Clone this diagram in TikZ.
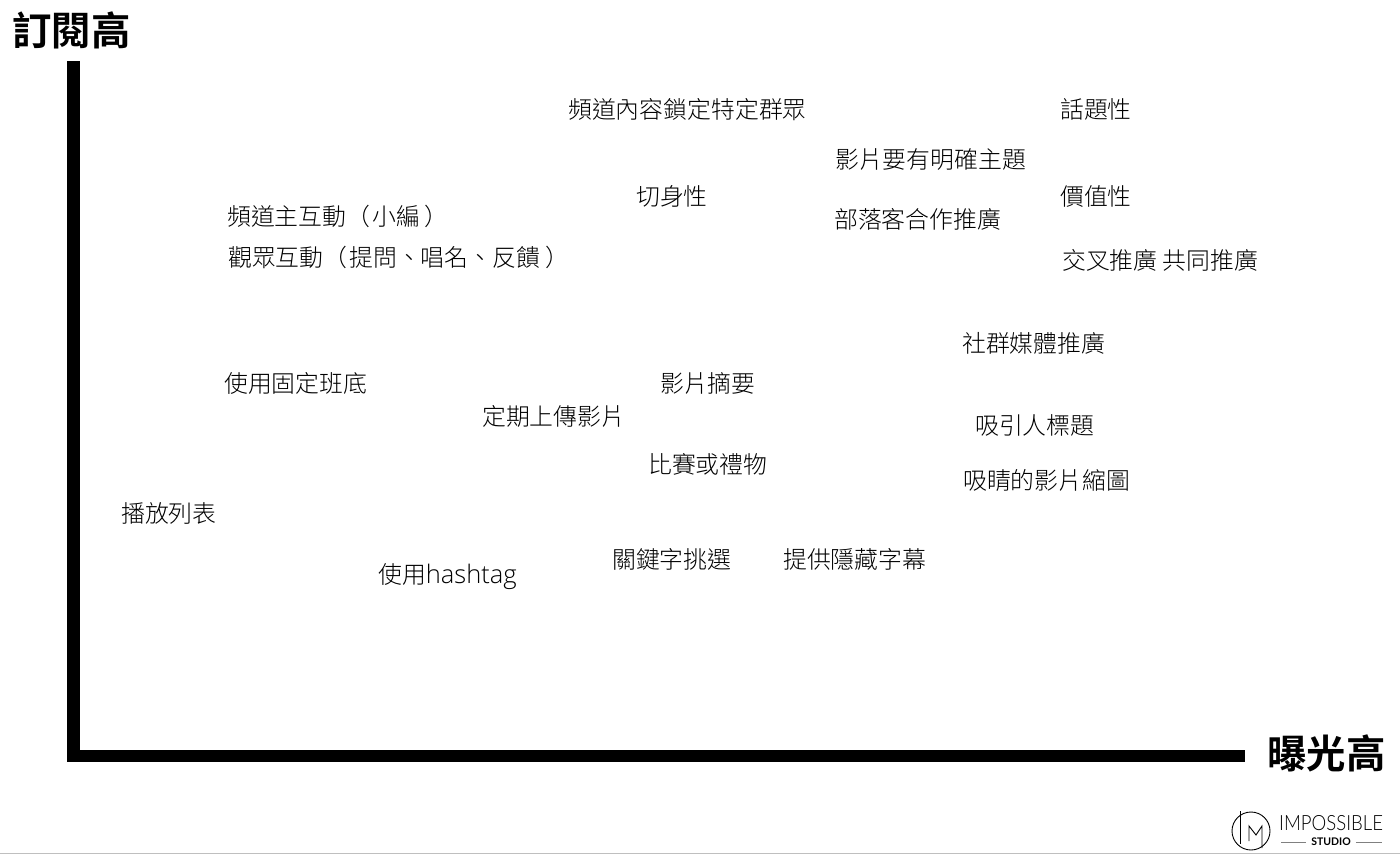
\documentclass[tikz,border=0pt]{standalone}
\usepackage{fontspec}
\setmainfont{TeX Gyre Heros}
\newfontfamily\cjkfont{Noto Sans CJK TC Light}
\newfontfamily\cjkbold{Noto Sans CJK TC Bold}
\newfontfamily\tagfont{Open Sans Light}
\newfontfamily\logofont{Lato Light}
\newfontfamily\logobold{Lato Bold}

\tikzset{
    item/.style={anchor=west, inner sep=0pt, font=\cjkfont\fontsize{23.85}{26}\selectfont},
    axistitle/.style={anchor=west, inner sep=0pt, font=\cjkbold\fontsize{39.4}{42}\selectfont},
    axisbar/.style={fill=black, draw=none},
    logoline/.style={draw=black, line width=.9pt}
}

\begin{document}
\begin{tikzpicture}[x=1pt, y=-1pt]

    \useasboundingbox (0,0) rectangle (1400,854);
    \fill[white] (0,0) rectangle (1400,854);

    % Axes
    \fill[axisbar] (67,61) rectangle (80,762);
    \fill[axisbar] (67,750) rectangle (1245,762);
    \node[axistitle] (ytitle) at (12,30) {訂閱高};
    \node[axistitle] (xtitle) at (1267,753) {曝光高};

    % Upper row
    \node[item] (niche) at (568,110) {頻道內容鎖定特定群眾};
    \node[item] (topical) at (1060,109) {話題性};
    \node[item] (theme) at (835,159) {影片要有明確主題};
    \node[item] (relevant) at (636,196) {切身性};
    \node[item] (value) at (1060,196) {價值性};
    \node[item] (blogger) at (834,219) {部落客合作推廣};
    \node[item] (host) at (227,216) {頻道主互動（\hspace{2pt}小編\hspace{5pt}）};
    \node[item] (viewer) at (228,257) {觀眾互動（\hspace{2pt}提問、唱名、反饋\hspace{5pt}）};
    \node[item] (cross) at (1062,260) {交叉推廣 共同推廣};

    % Middle row
    \node[item] (social) at (962,343) {社群媒體推廣};
    \node[item] (cast) at (224,383) {使用固定班底};
    \node[item] (summary) at (660,383) {影片摘要};
    \node[item] (upload) at (482,416) {定期上傳影片};
    \node[item] (headline) at (975,425) {吸引人標題};
    \node[item] (contest) at (648,464) {比賽或禮物};
    \node[item] (thumb) at (963,480) {吸睛的影片縮圖};

    % Lower row
    \node[item] (playlist) at (121,513) {播放列表};
    \node[item] (keyword) at (612,559) {關鍵字挑選};
    \node[item] (caption) at (783,559) {提供隱藏字幕};
    \node[item] (hashtag) at (378,577) {使用{\tagfont\fontsize{25.5}{28}\selectfont hashtag}};

    % Logo
    \coordinate (logoc) at (1251,831);
    \draw[logoline] (logoc) circle (19);
    \draw[logoline] (1240,811) -- (1240,844);
    \draw[logoline] (1249,841) -- (1249,826) -- (1256,835) -- (1262,826) -- (1262,848);
    \node[anchor=west, inner sep=0pt, xscale=.885, font=\logofont\fontsize{21}{22}\selectfont] (logotext) at (1279,823) {IMPOSSIBLE};
    \node[anchor=center, inner sep=0pt, font=\logobold\fontsize{10.5}{12}\selectfont] (logosub) at (1331,842) {STUDIO};
    \coordinate (subleft) at (1281,842);
    \coordinate (subright) at (1382,842);
    \draw[gray, line width=.6pt] (subleft) -- ([xshift=-5pt]logosub.west);
    \draw[gray, line width=.6pt] ([xshift=5pt]logosub.east) -- (subright);

    % Bottom edge
    \draw[gray!50, line width=1pt] (0,853.5) -- (1400,853.5);

\end{tikzpicture}
\end{document}
